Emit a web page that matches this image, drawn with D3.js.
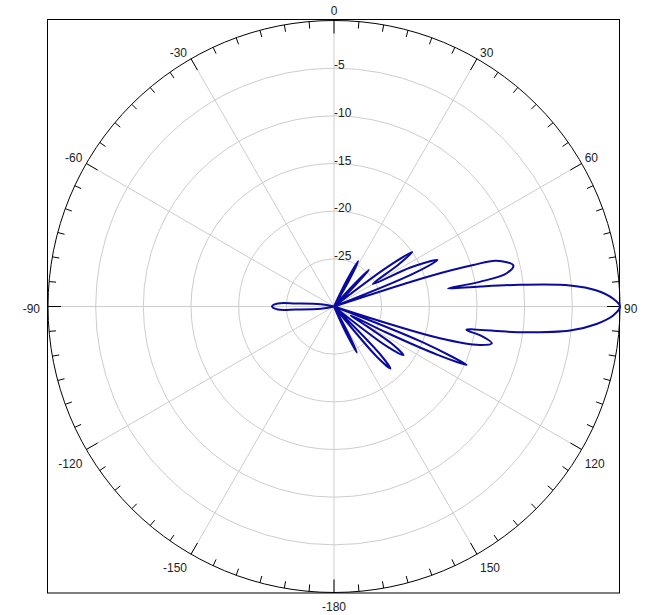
<!DOCTYPE html>
<html>
<head>
<meta charset="utf-8">
<script src="https://cdn.jsdelivr.net/npm/d3@7"></script>
<style>
  html, body { margin: 0; padding: 0; background: #fff; }
  svg { display: block; }
  text { font-family: "Liberation Sans", Arial, sans-serif; font-size: 12px; fill: #222; }
</style>
</head>
<body>
<script>
// ---- data (angle in degrees clockwise from top, gain in dB) ----
const patternAngle = [
  0, 24, 26, 28, 30, 32,
  40, 42, 43.6, 45.5, 47,
  51, 53.5, 55.2, 57, 60,
  63, 65.8, 67.5, 69.5,
  72, 72.4, 73.4, 74.3, 77.1, 79.1, 80.4, 81,
  82.2, 83.35, 84.9, 86.5, 88.4, 90, 91.85, 93.8, 95.8, 97.9, 100,
  101.3, 103.1, 104.8, 106.7, 108,
  110.5, 112, 113.8, 115, 116.5, 118,
  121, 123, 125, 127, 129,
  134, 136, 137.7, 139.5, 142,
  150, 152, 153.6, 155.5, 158,
  180, 256, 260, 265.5, 267, 270, 273, 274.5, 280, 284, 360
];
const patternDb = [
  -40, -40, -27, -24.6, -27, -40,
  -40, -27.5, -24.7, -27.5, -40,
  -40, -23, -20.0, -22, -25.3,
  -21, -18.1, -21, -40,
  -40, -19.4, -14.75, -12.3, -10.7, -11.55, -14.5, -17.9,
  -14.5, -10.4, -5.15, -2.4, -0.7, 0, -0.7, -2.4, -5.1, -10.3, -15.9,
  -14.2, -13.0, -14.2, -18.4, -40,
  -40, -20, -14.8, -18, -24, -28,
  -26, -22.5, -21.1, -23, -40,
  -40, -23, -21.2, -23, -40,
  -40, -27, -24.6, -27, -40,
  -40, -40, -28.6, -26.0, -24.1, -23.5, -24.1, -26.0, -28.6, -40, -40
];
const angleTickValues = [0, 30, 60, 90, 120, 150, 180, 210, 240, 270, 300, 330];
const angleTickLabels = ["0", "30", "60", "90", "120", "150", "-180", "-150", "-120", "-90", "-60", "-30"];
const radialTickValues = [-5, -10, -15, -20, -25];
const radialTickLabels = ["-5", "-10", "-15", "-20", "-25"];
const dbMin = -30, dbMax = 0;

// ---- layout ----
const W = 660, H = 615;
const cx = 334, cy = 306.5, R = 286;

const svg = d3.select("body").append("svg").attr("width", W).attr("height", H);

// frame
svg.append("rect").attr("x", 47.5).attr("y", 19.5).attr("width", 572).attr("height", 573.5)
  .attr("fill", "none").attr("stroke", "#000").attr("stroke-width", 1);

const g = svg.append("g").attr("transform", `translate(${cx},${cy})`);

const rScale = d3.scaleLinear().domain([dbMin, dbMax]).range([0, R]).clamp(true);
const aScale = d3.scaleLinear().domain([0, 360]).range([0, 2 * Math.PI]);
const px = (deg, r) => r * Math.sin(aScale(deg));
const py = (deg, r) => -r * Math.cos(aScale(deg));

// grid circles
g.selectAll("circle.grid").data(radialTickValues).join("circle")
  .attr("class", "grid").attr("r", d => rScale(d))
  .attr("fill", "none").attr("stroke", "#cdcdcd").attr("stroke-width", 1);

// spokes
g.selectAll("line.spoke").data(angleTickValues).join("line")
  .attr("class", "spoke")
  .attr("x1", 0).attr("y1", 0)
  .attr("x2", d => px(d, R)).attr("y2", d => py(d, R))
  .attr("stroke", "#cdcdcd").attr("stroke-width", 1);

// outer circle
g.append("circle").attr("r", R).attr("fill", "none").attr("stroke", "#000").attr("stroke-width", 1);

// ticks every 5 degrees
const tickAngles = d3.range(0, 360, 5);
g.selectAll("line.tick").data(tickAngles).join("line")
  .attr("class", "tick")
  .attr("x1", d => px(d, R)).attr("y1", d => py(d, R))
  .attr("x2", d => px(d, R - (d % 30 === 0 ? 13 : 7)))
  .attr("y2", d => py(d, R - (d % 30 === 0 ? 13 : 7)))
  .attr("stroke", "#000").attr("stroke-width", 1);

// angle labels
angleTickValues.forEach((d, i) => {
  const s = Math.sin(aScale(d)), c = Math.cos(aScale(d));
  const x0 = px(d, R), y0 = py(d, R);
  let x = x0, y = y0, anchor = "middle";
  if (Math.abs(s) < 0.01) {
    anchor = "middle";
    y = c > 0 ? y0 - 5.5 : y0 + 18;
  } else if (Math.abs(c) < 0.01) {
    anchor = s > 0 ? "start" : "end";
    x = s > 0 ? x0 + 4 : x0 - 8;
    y = y0 + 6.5;
  } else {
    anchor = s > 0 ? "start" : "end";
    x = s > 0 ? x0 + 3 : x0 - 4;
    y = c > 0 ? y0 - 1.5 : y0 + 18;
  }
  g.append("text").attr("x", x).attr("y", y).attr("text-anchor", anchor).text(angleTickLabels[i]);
});

// radial labels
g.selectAll("text.rlab").data(radialTickValues).join("text")
  .attr("class", "rlab")
  .attr("x", 0).attr("y", d => -rScale(d) + 1)
  .attr("text-anchor", "start")
  .text((d, i) => radialTickLabels[i]);

// pattern
const pts = patternAngle.map((a, i) => ({ angle: a, db: patternDb[i] }));
const line = d3.lineRadial()
  .angle(d => aScale(d.angle))
  .radius(d => rScale(d.db))
  .curve(d3.curveCatmullRom.alpha(0.5));
g.append("path").datum(pts).attr("d", line)
  .attr("fill", "none").attr("stroke", "#0a0a9e").attr("stroke-width", 2)
  .attr("stroke-linejoin", "round");
</script>
</body>
</html>
